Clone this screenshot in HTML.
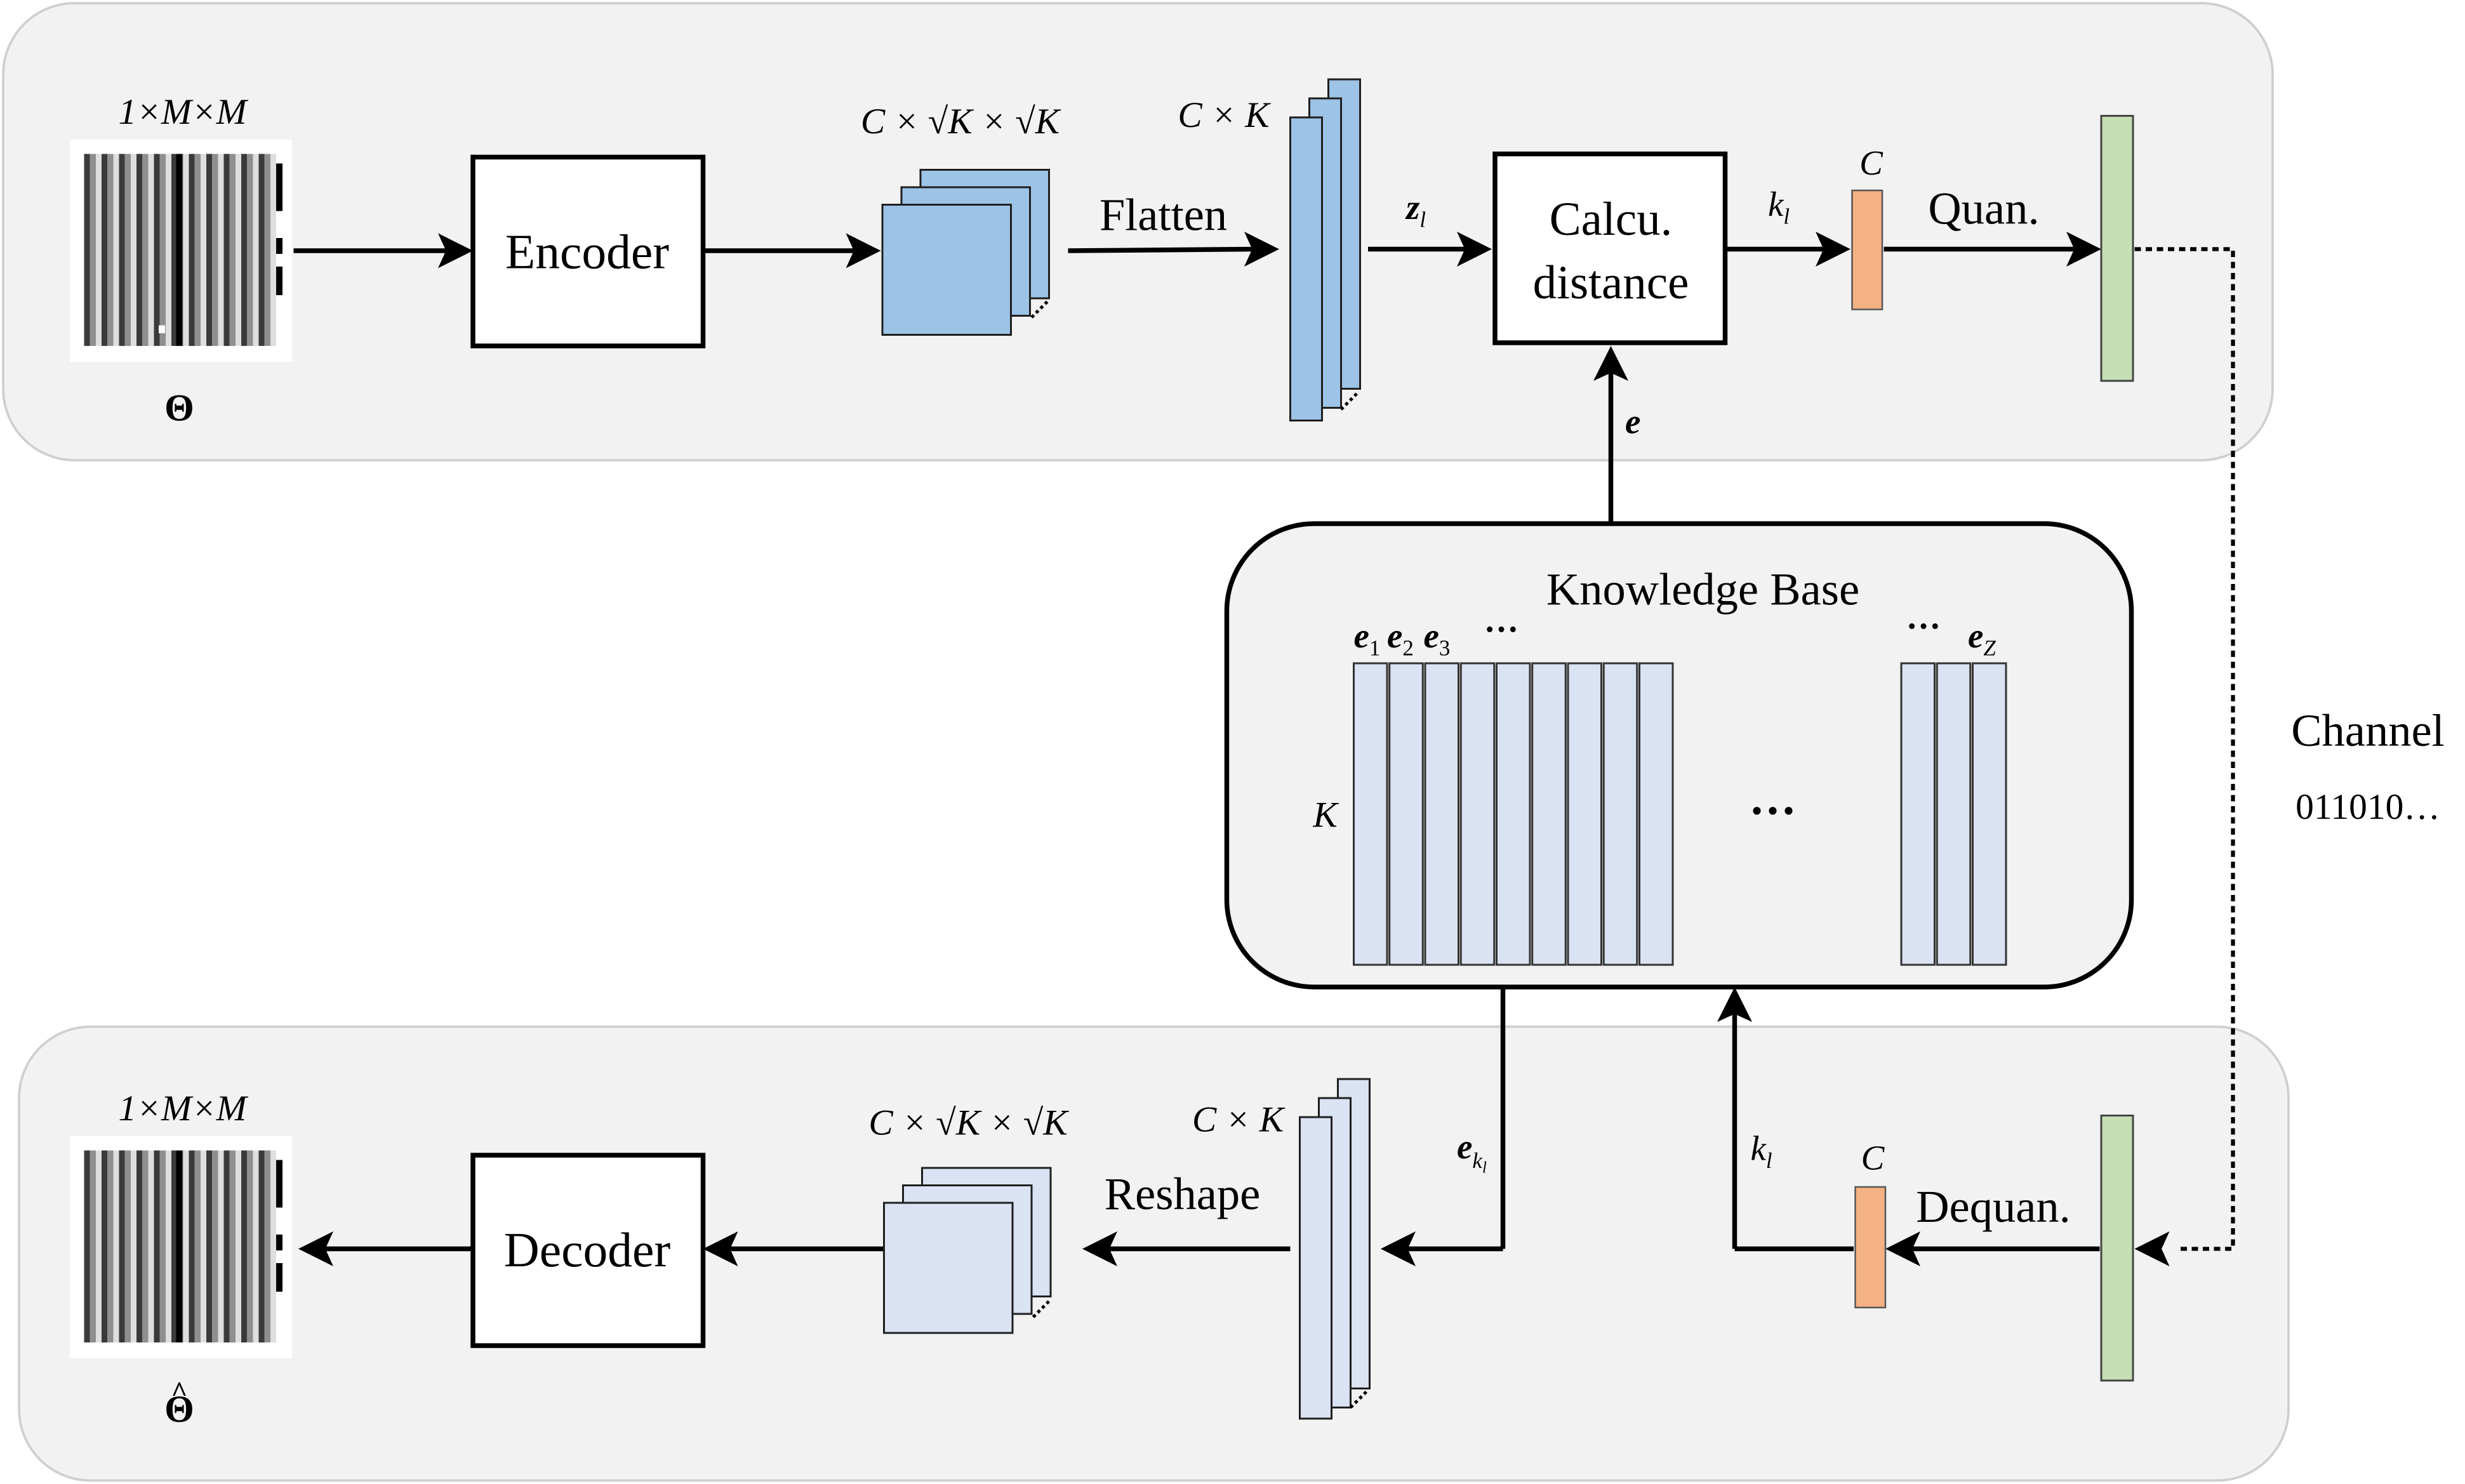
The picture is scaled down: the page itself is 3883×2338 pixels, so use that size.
<!DOCTYPE html>
<html><head><meta charset="utf-8">
<style>
html,body{margin:0;padding:0;background:#fff;}
svg{display:block;}
text{font-family:"Liberation Serif",serif;fill:#000;}
.it{font-style:italic;}
</style></head>
<body>
<svg width="3883" height="2338" viewBox="0 0 1553.2 935.2" preserveAspectRatio="none" xmlns="http://www.w3.org/2000/svg">
<defs>
<pattern id="stripes" x="53" y="0" width="11" height="10" patternUnits="userSpaceOnUse">
<rect x="0" y="0" width="3.7" height="10" fill="#3a3a3a"/>
<rect x="3.7" y="0" width="3.7" height="10" fill="#8f8f8f"/>
<rect x="7.4" y="0" width="3.6" height="10" fill="#dedede"/>
</pattern>
</defs>

<rect x="2" y="2" width="1430" height="288" rx="45" fill="#f2f2f2" stroke="#cfcfcf" stroke-width="1.5"/>
<rect x="12" y="647" width="1430" height="286" rx="45" fill="#f2f2f2" stroke="#cfcfcf" stroke-width="1.5"/>

<rect x="44" y="88" width="140" height="140" fill="#fff"/>
<rect x="53" y="97" width="121" height="121" fill="url(#stripes)"/>
<rect x="111" y="97" width="4" height="121" fill="#000"/>
<rect x="174" y="103" width="4" height="30" fill="#000"/>
<rect x="174" y="150" width="4" height="10" fill="#000"/>
<rect x="174" y="168" width="4" height="18" fill="#000"/>
<rect x="100" y="205" width="4" height="5" fill="#fff"/>
<text x="115" y="78" font-size="23" text-anchor="middle" class="it">1×M×M</text>
<text x="113" y="265" font-size="24" font-weight="bold" text-anchor="middle">Θ</text>

<rect x="44" y="716" width="140" height="140" fill="#fff"/>
<rect x="53" y="725" width="121" height="121" fill="url(#stripes)"/>
<rect x="111" y="725" width="4" height="121" fill="#000"/>
<rect x="174" y="731" width="4" height="30" fill="#000"/>
<rect x="174" y="778" width="4" height="10" fill="#000"/>
<rect x="174" y="796" width="4" height="18" fill="#000"/>
<text x="115" y="706" font-size="23" text-anchor="middle" class="it">1×M×M</text>
<text x="113" y="896" font-size="24" font-weight="bold" text-anchor="middle">Θ</text>
<text x="113" y="883" font-size="18" font-weight="bold" text-anchor="middle">^</text>

<g stroke="#000" stroke-width="3" fill="none">
<line x1="185" y1="158" x2="285" y2="158"/>
<rect x="298" y="99" width="145" height="119" fill="#fff"/>
<line x1="443" y1="158" x2="542" y2="158"/>
<line x1="673" y1="158" x2="792" y2="157"/>
<line x1="862" y1="157" x2="927" y2="157"/>
<rect x="942" y="97" width="145" height="119" fill="#fff"/>
<line x1="1088" y1="157" x2="1152" y2="157"/>
<line x1="1187" y1="157" x2="1310" y2="157"/>
<line x1="1015" y1="330" x2="1015" y2="232"/>
<line x1="947" y1="622" x2="947" y2="787"/>
<line x1="947" y1="787" x2="884" y2="787"/>
<line x1="1168" y1="787" x2="1093" y2="787"/>
<line x1="1093" y1="787" x2="1093" y2="637"/>
<line x1="1323" y1="787" x2="1203" y2="787"/>
<line x1="813" y1="787" x2="696" y2="787"/>
<line x1="557" y1="787" x2="457" y2="787"/>
<rect x="298" y="728" width="145" height="120" fill="#fff"/>
<line x1="298" y1="787" x2="202" y2="787"/>
</g>
<polyline points="1345,157 1407,157 1407,787 1372,787" fill="none" stroke="#000" stroke-width="2.5" stroke-dasharray="4,3"/>

<g fill="#000">
<polygon points="298,158 276,147 281,158 276,169"/>
<polygon points="555,158 533,147 538,158 533,169"/>
<polygon points="806,157 784,146 789,157 784,168"/>
<polygon points="940,157 918,146 923,157 918,168"/>
<polygon points="1166,157 1144,146 1149,157 1144,168"/>
<polygon points="1324,157 1302,146 1307,157 1302,168"/>
<polygon points="1015,218 1004,240 1015,235 1026,240"/>
<polygon points="870,787 892,776 887,787 892,798"/>
<polygon points="1093,622 1082,644 1093,639 1104,644"/>
<polygon points="1188,787 1210,776 1205,787 1210,798"/>
<polygon points="1345,787 1367,776 1362,787 1367,798"/>
<polygon points="682,787 704,776 699,787 704,798"/>
<polygon points="443,787 465,776 460,787 465,798"/>
<polygon points="188,787 210,776 205,787 210,798"/>
</g>

<text x="370" y="169" font-size="31" text-anchor="middle">Encoder</text>
<text x="370" y="798" font-size="31" text-anchor="middle">Decoder</text>
<text x="1015" y="148" font-size="30" text-anchor="middle">Calcu.</text>
<text x="1015" y="188" font-size="30" text-anchor="middle">distance</text>
<text x="733" y="145" font-size="29" text-anchor="middle">Flatten</text>
<text x="745" y="762" font-size="29" text-anchor="middle">Reshape</text>
<text x="1250" y="141" font-size="29" text-anchor="middle">Quan.</text>
<text x="1256" y="770" font-size="29" text-anchor="middle">Dequan.</text>
<text x="1492" y="470" font-size="29" text-anchor="middle">Channel</text>
<text x="1492" y="516" font-size="23" text-anchor="middle">011010…</text>

<g stroke="#1f1f1f" stroke-width="1.2" fill="#9dc3e6">
<rect x="580" y="107" width="81" height="81"/>
<rect x="568" y="118" width="81" height="81"/>
<rect x="556" y="129" width="81" height="82"/>
</g>
<path d="M650,200 L660,190" stroke="#000" stroke-width="2" stroke-dasharray="2,2"/>
<text x="605" y="84" font-size="23" text-anchor="middle" class="it">C × √K × √K</text>
<g stroke="#1f1f1f" stroke-width="1.2" fill="#dae3f3">
<rect x="581" y="736" width="81" height="81"/>
<rect x="569" y="747" width="81" height="81"/>
<rect x="557" y="758" width="81" height="82"/>
</g>
<path d="M651,830 L661,820" stroke="#000" stroke-width="2" stroke-dasharray="2,2"/>
<text x="610" y="715" font-size="23" text-anchor="middle" class="it">C × √K × √K</text>

<g stroke="#1f1f1f" stroke-width="1.2" fill="#9dc3e6">
<rect x="837" y="50" width="20" height="195"/>
<rect x="825" y="62" width="20" height="195"/>
<rect x="813" y="74" width="20" height="191"/>
</g>
<path d="M845,258 L855,248" stroke="#000" stroke-width="2" stroke-dasharray="2,2"/>
<text x="771" y="80" font-size="23" text-anchor="middle" class="it">C × K</text>
<g stroke="#1f1f1f" stroke-width="1.2" fill="#dae3f3">
<rect x="843" y="680" width="20" height="195"/>
<rect x="831" y="692" width="20" height="195"/>
<rect x="819" y="704" width="20" height="190"/>
</g>
<path d="M851,887 L861,877" stroke="#000" stroke-width="2" stroke-dasharray="2,2"/>
<text x="780" y="713" font-size="23" text-anchor="middle" class="it">C × K</text>

<text x="886" y="138" font-size="22" font-weight="bold" class="it">z<tspan font-size="14" font-weight="normal" dy="5">l</tspan></text>
<text x="1114" y="136" font-size="22" class="it">k<tspan font-size="14" dy="5">l</tspan></text>
<text x="1024" y="273" font-size="22" font-weight="bold" class="it">e</text>
<text x="918" y="730" font-size="22" font-weight="bold" class="it">e<tspan font-size="14" font-weight="normal" dy="6">k</tspan><tspan font-size="10" font-weight="normal" dy="3">l</tspan></text>
<text x="1103" y="731" font-size="22" class="it">k<tspan font-size="14" dy="5">l</tspan></text>

<rect x="1167" y="120" width="19" height="75" fill="#f4b183" stroke="#555" stroke-width="1"/>
<text x="1179" y="110" font-size="22" text-anchor="middle" class="it">C</text>
<rect x="1169" y="748" width="19" height="76" fill="#f4b183" stroke="#555" stroke-width="1"/>
<text x="1180" y="737" font-size="22" text-anchor="middle" class="it">C</text>
<rect x="1324" y="73" width="20" height="167" fill="#c5e0b4" stroke="#444" stroke-width="1.2"/>
<rect x="1324" y="703" width="20" height="167" fill="#c5e0b4" stroke="#444" stroke-width="1.2"/>

<rect x="773" y="330" width="570" height="292" rx="55" fill="#f2f2f2" stroke="#000" stroke-width="3"/>
<text x="1073" y="381" font-size="29" text-anchor="middle">Knowledge Base</text>
<g fill="#dae3f3" stroke="#333" stroke-width="1.2">
<rect x="853" y="418" width="21" height="190"/>
<rect x="875.5" y="418" width="21" height="190"/>
<rect x="898" y="418" width="21" height="190"/>
<rect x="920.5" y="418" width="21" height="190"/>
<rect x="943" y="418" width="21" height="190"/>
<rect x="965.5" y="418" width="21" height="190"/>
<rect x="988" y="418" width="21" height="190"/>
<rect x="1010.5" y="418" width="21" height="190"/>
<rect x="1033" y="418" width="21" height="190"/>
<rect x="1198" y="418" width="21" height="190"/>
<rect x="1220.5" y="418" width="21" height="190"/>
<rect x="1243" y="418" width="21" height="190"/>
</g>
<text x="853" y="408" font-size="22" font-weight="bold" class="it">e<tspan font-size="14" font-weight="normal" font-style="normal" dy="5">1</tspan></text>
<text x="874" y="408" font-size="22" font-weight="bold" class="it">e<tspan font-size="14" font-weight="normal" font-style="normal" dy="5">2</tspan></text>
<text x="897" y="408" font-size="22" font-weight="bold" class="it">e<tspan font-size="14" font-weight="normal" font-style="normal" dy="5">3</tspan></text>
<text x="946" y="404" font-size="22" font-weight="bold" text-anchor="middle">···</text>
<text x="1212" y="402" font-size="22" font-weight="bold" text-anchor="middle">···</text>
<text x="1240" y="408" font-size="22" font-weight="bold" class="it">e<tspan font-size="14" font-weight="normal" dy="5">Z</tspan></text>
<text x="835" y="521" font-size="23" text-anchor="middle" class="it">K</text>
<text x="1117" y="521" font-size="30" font-weight="bold" text-anchor="middle">···</text>
</svg>
</body></html>
